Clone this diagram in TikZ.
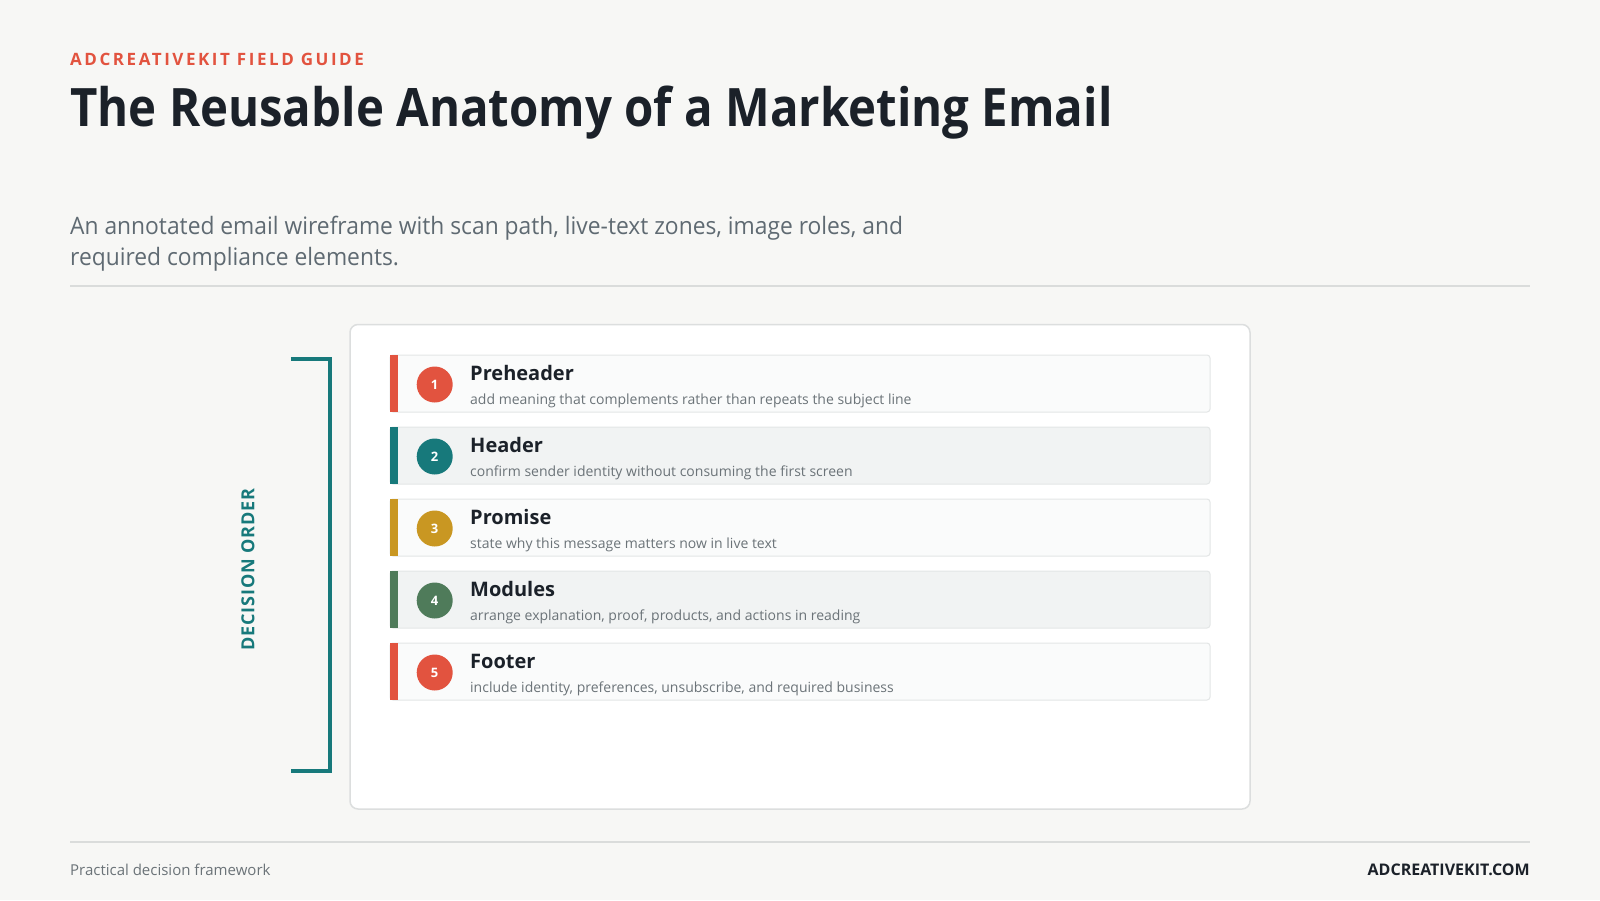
\documentclass[tikz,border=0pt]{standalone}
\usepackage{fontspec}
\setmainfont{Open Sans}
\definecolor{bgc}{HTML}{F7F7F5}
\definecolor{redc}{HTML}{E2533F}
\definecolor{tealc}{HTML}{17797B}
\definecolor{mustc}{HTML}{C99722}
\definecolor{greenc}{HTML}{4F7B5A}
\definecolor{inkc}{HTML}{1B2129}
\definecolor{greyc}{HTML}{5F6A72}
\definecolor{descc}{HTML}{6B7378}
\definecolor{rulec}{HTML}{DADCDB}
\definecolor{cardb}{HTML}{DCDEDE}
\definecolor{rowb}{HTML}{E3E6E6}
\definecolor{rowa}{HTML}{FAFBFB}
\definecolor{rowe}{HTML}{F1F3F3}
\begin{document}
\begin{tikzpicture}[x=1pt,y=-1pt,
  txt/.style={inner sep=0pt, anchor=base west},
  rowtitle/.style={txt, text=inkc, font=\bfseries\fontsize{20}{24}\selectfont},
  rowdesc/.style={txt, text=descc, font=\fontsize{14}{17}\selectfont},
  badge/.style={circle, minimum size=36pt, inner sep=0pt, text=white, font=\bfseries\fontsize{13}{15}\selectfont},
  rowbox/.style={draw=rowb, line width=1pt, rounded corners=3pt}]
\fill[bgc] (0,0) rectangle (1600,900);
\useasboundingbox (0,0) rectangle (1600,900);
% header
\node[txt, text=redc, font=\bfseries\fontsize{17}{20}\selectfont\addfontfeature{LetterSpace=15}] (kicker) at (70,65.3) {ADCREATIVEKIT FIELD GUIDE};
\node[txt, text=inkc, font=\bfseries\fontsize{53}{60}\selectfont\addfontfeature{FakeStretch=0.894}] (title) at (70,126.5) {The Reusable Anatomy of a Marketing Email};
\node[txt, text=greyc, font=\fontsize{24}{30}\selectfont\addfontfeature{FakeStretch=0.95}] (sub1) at (70,234.7) {An annotated email wireframe with scan path, live-text zones, image roles, and};
\node[txt, text=greyc, font=\fontsize{24}{30}\selectfont\addfontfeature{FakeStretch=0.95}] (sub2) at (70,265.3) {required compliance elements.};
\draw[rulec, line width=1.5pt] (70,286) -- (1530,286);
% card
\draw[cardb, fill=white, line width=1.5pt, rounded corners=8pt] (350,324.5) rectangle (1250,809);
% rows
\foreach \i/\c/\f/\t/\d in {0/redc/rowa/Preheader/add meaning that complements rather than repeats the subject line,
  1/tealc/rowe/Header/confirm sender identity without consuming the first screen,
  2/mustc/rowa/Promise/state why this message matters now in live text,
  3/greenc/rowe/Modules/{arrange explanation, proof, products, and actions in reading},
  4/redc/rowa/Footer/{include identity, preferences, unsubscribe, and required business}}{
  \pgfmathsetmacro{\top}{355+72*\i}
  \draw[rowbox, fill=\f] (390,\top) rectangle (1210,\top+57);
  \fill[\c] (390,\top) rectangle (398,\top+57);
  \pgfmathtruncatemacro{\n}{\i+1}
  \node[badge, fill=\c] (b\n) at (434.7,\top+29.5) {\n};
  \node[rowtitle] (t\n) at (470,\top+25.5) {\t};
  \node[rowdesc] (d\n) at (470,\top+49) {\d};
}
% bracket
\draw[tealc, line width=4pt] (290.8,359) -- (329.6,359) -- (329.6,770.5) -- (290.8,770.5);
\node[text=tealc, font=\bfseries\fontsize{18}{20}\selectfont\addfontfeature{LetterSpace=5}, rotate=90, inner sep=0pt] (order) at (248,569.5) {DECISION ORDER};
% footer
\draw[rulec, line width=1.5pt] (70,842) -- (1530,842);
\node[txt, text=descc, font=\fontsize{15}{19}\selectfont] (foot1) at (70,875) {Practical decision framework};
\node[inner sep=0pt, anchor=base east, text=inkc, font=\bfseries\fontsize{16}{19}\selectfont] (foot2) at (1530,875) {ADCREATIVEKIT.COM};
\end{tikzpicture}
\end{document}
